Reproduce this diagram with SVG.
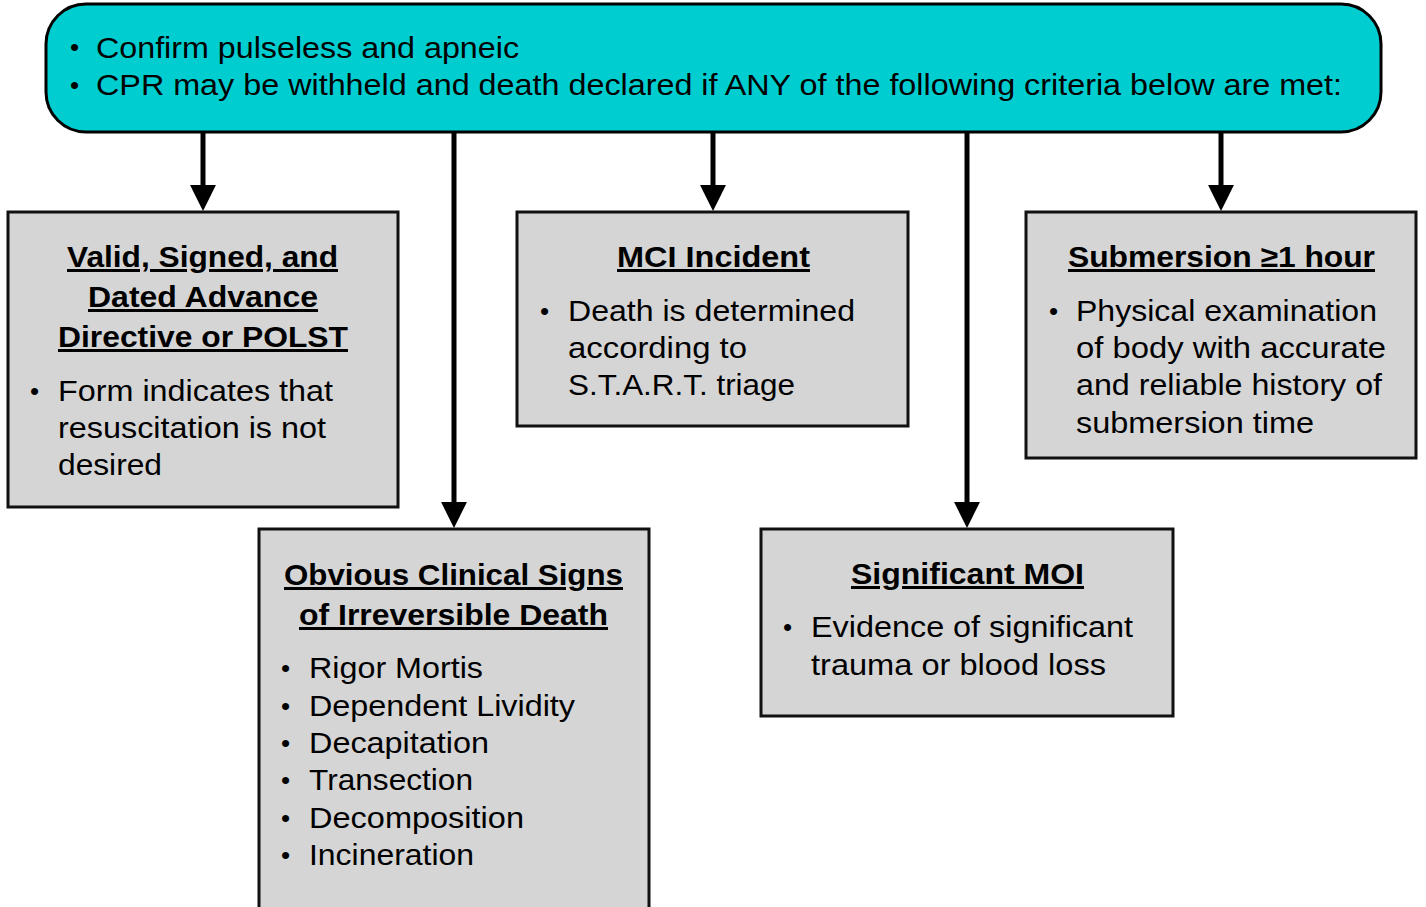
<svg xmlns="http://www.w3.org/2000/svg" width="1426" height="907" viewBox="0 0 1426 907">
<defs>
<style>
.box{fill:#d5d5d5;stroke:#111;stroke-width:3}
.top{fill:#00cdd0;stroke:#000;stroke-width:3}
.t{font-family:"Liberation Sans",Arial,Helvetica,sans-serif;fill:#000}
.ttl{font-size:30px;font-weight:bold;text-decoration:underline}
.bd{font-size:29px}
.tp{font-size:30px}
.bul{font-size:26px}
.conn{stroke:#000;stroke-width:5;fill:none}
</style>
<marker id="ah" markerUnits="userSpaceOnUse" markerWidth="26" markerHeight="26" refX="2" refY="12.5" orient="auto" viewBox="0 0 25 25">
<path d="M0,0 L25,12.5 L0,25 z" fill="#000"/>
</marker>
</defs>
<rect width="1426" height="907" fill="#fff"/>
<g id="connectors">
<line class="conn" x1="203" y1="132" x2="203" y2="187" marker-end="url(#ah)"/>
<line class="conn" x1="454" y1="132" x2="454" y2="504" marker-end="url(#ah)"/>
<line class="conn" x1="713" y1="132" x2="713" y2="187" marker-end="url(#ah)"/>
<line class="conn" x1="967" y1="132" x2="967" y2="504" marker-end="url(#ah)"/>
<line class="conn" x1="1221" y1="132" x2="1221" y2="187" marker-end="url(#ah)"/>
</g>
<g id="top">
<rect class="top" x="46" y="4" width="1335" height="128" rx="40" ry="40"/>
<text class="t bul" x="70" y="56">•</text>
<text class="t tp" x="96" y="58" textLength="423" lengthAdjust="spacingAndGlyphs">Confirm pulseless and apneic</text>
<text class="t bul" x="70" y="94">•</text>
<text class="t tp" x="96" y="95" textLength="1246" lengthAdjust="spacingAndGlyphs">CPR may be withheld and death declared if ANY of the following criteria below are met:</text>
</g>
<g id="advance-directive">
<rect class="box" x="8" y="212" width="390" height="295"/>
<text class="t ttl" x="67" y="267" textLength="271" lengthAdjust="spacingAndGlyphs">Valid, Signed, and</text>
<text class="t ttl" x="88" y="307" textLength="230" lengthAdjust="spacingAndGlyphs">Dated Advance</text>
<text class="t ttl" x="58" y="347" textLength="290" lengthAdjust="spacingAndGlyphs">Directive or POLST</text>
<text class="t bul" x="30" y="400">•</text>
<text class="t bd" x="58" y="401" textLength="275" lengthAdjust="spacingAndGlyphs">Form indicates that</text>
<text class="t bd" x="58" y="438" textLength="268" lengthAdjust="spacingAndGlyphs">resuscitation is not</text>
<text class="t bd" x="58" y="475" textLength="104" lengthAdjust="spacingAndGlyphs">desired</text>
</g>
<g id="obvious-signs">
<rect class="box" x="259" y="529" width="390" height="400"/>
<text class="t ttl" x="284" y="585" textLength="339" lengthAdjust="spacingAndGlyphs">Obvious Clinical Signs</text>
<text class="t ttl" x="299" y="625" textLength="309" lengthAdjust="spacingAndGlyphs">of Irreversible Death</text>
<text class="t bul" x="281" y="677">•</text>
<text class="t bd" x="309" y="678" textLength="174" lengthAdjust="spacingAndGlyphs">Rigor Mortis</text>
<text class="t bul" x="281" y="715">•</text>
<text class="t bd" x="309" y="716" textLength="266" lengthAdjust="spacingAndGlyphs">Dependent Lividity</text>
<text class="t bul" x="281" y="752">•</text>
<text class="t bd" x="309" y="753" textLength="180" lengthAdjust="spacingAndGlyphs">Decapitation</text>
<text class="t bul" x="281" y="789">•</text>
<text class="t bd" x="309" y="790" textLength="164" lengthAdjust="spacingAndGlyphs">Transection</text>
<text class="t bul" x="281" y="827">•</text>
<text class="t bd" x="309" y="828" textLength="215" lengthAdjust="spacingAndGlyphs">Decomposition</text>
<text class="t bul" x="281" y="864">•</text>
<text class="t bd" x="309" y="865" textLength="165" lengthAdjust="spacingAndGlyphs">Incineration</text>
</g>
<g id="mci">
<rect class="box" x="517" y="212" width="391" height="214"/>
<text class="t ttl" x="617" y="267" textLength="193" lengthAdjust="spacingAndGlyphs">MCI Incident</text>
<text class="t bul" x="540" y="320">•</text>
<text class="t bd" x="568" y="321" textLength="287" lengthAdjust="spacingAndGlyphs">Death is determined</text>
<text class="t bd" x="568" y="358" textLength="179" lengthAdjust="spacingAndGlyphs">according to</text>
<text class="t bd" x="568" y="395" textLength="227" lengthAdjust="spacingAndGlyphs">S.T.A.R.T. triage</text>
</g>
<g id="significant-moi">
<rect class="box" x="761" y="529" width="412" height="187"/>
<text class="t ttl" x="851" y="584" textLength="233" lengthAdjust="spacingAndGlyphs">Significant MOI</text>
<text class="t bul" x="783" y="636">•</text>
<text class="t bd" x="811" y="637" textLength="322" lengthAdjust="spacingAndGlyphs">Evidence of significant</text>
<text class="t bd" x="811" y="675" textLength="295" lengthAdjust="spacingAndGlyphs">trauma or blood loss</text>
</g>
<g id="submersion">
<rect class="box" x="1026" y="212" width="390" height="246"/>
<text class="t ttl" x="1068" y="267" textLength="307" lengthAdjust="spacingAndGlyphs">Submersion ≥1 hour</text>
<text class="t bul" x="1049" y="320">•</text>
<text class="t bd" x="1076" y="321" textLength="301" lengthAdjust="spacingAndGlyphs">Physical examination</text>
<text class="t bd" x="1076" y="358" textLength="310" lengthAdjust="spacingAndGlyphs">of body with accurate</text>
<text class="t bd" x="1076" y="395" textLength="306" lengthAdjust="spacingAndGlyphs">and reliable history of</text>
<text class="t bd" x="1076" y="433" textLength="238" lengthAdjust="spacingAndGlyphs">submersion time</text>
</g>
</svg>
